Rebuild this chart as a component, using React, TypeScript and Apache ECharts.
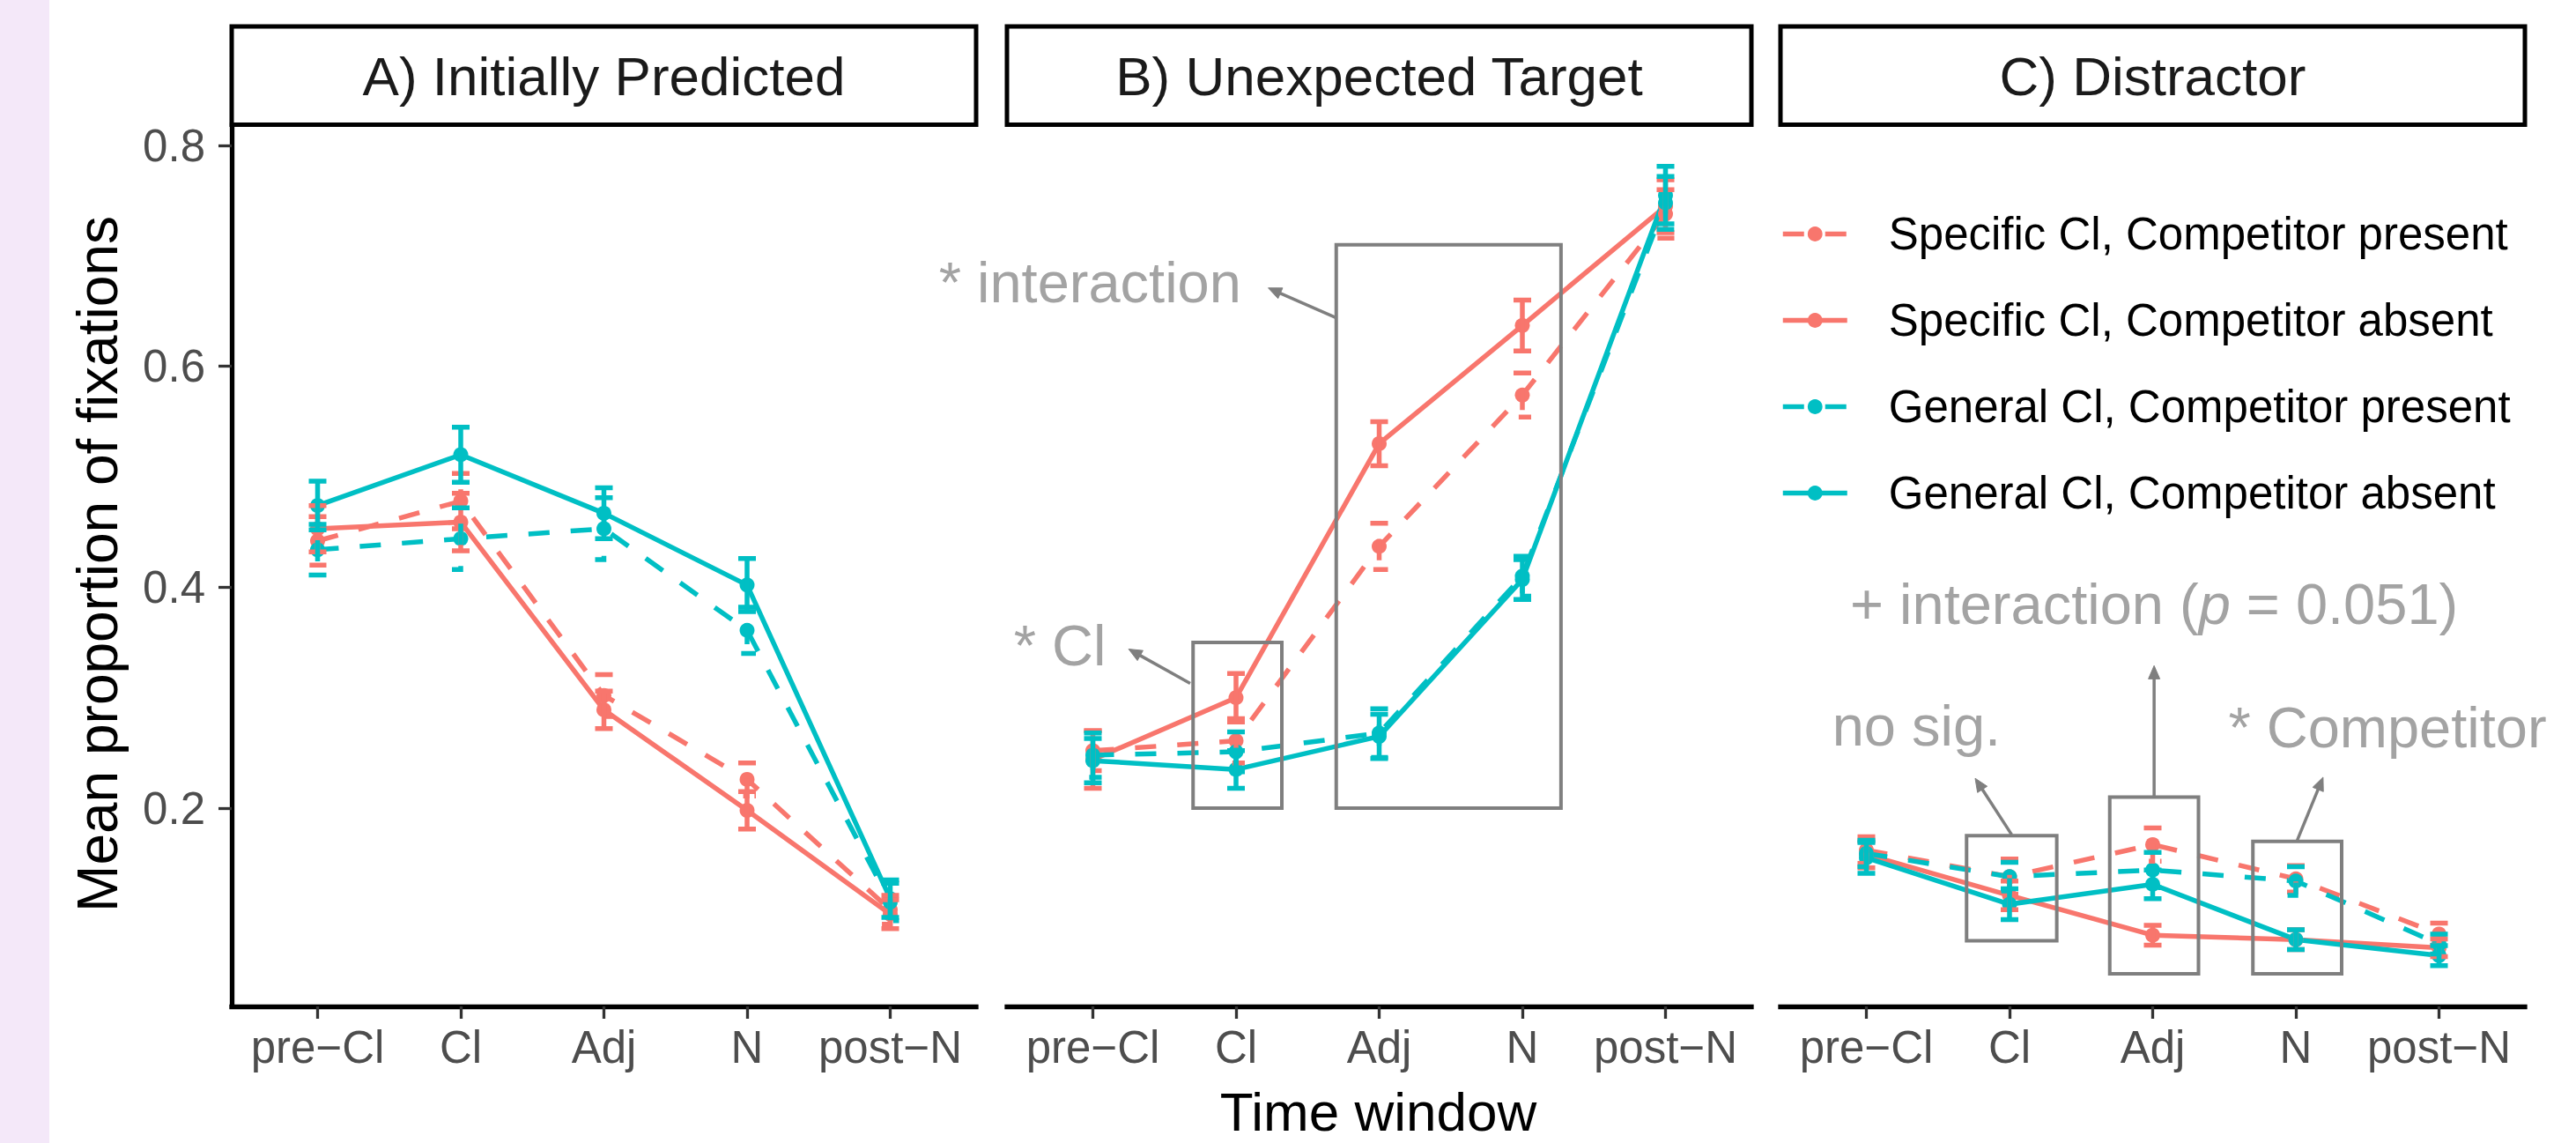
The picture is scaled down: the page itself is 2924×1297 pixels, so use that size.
import React, { useEffect, useRef } from 'react';
import * as echarts from 'echarts';

// ---------- data ----------
const categories = ['pre−Cl', 'Cl', 'Adj', 'N', 'post−N'];
const yTicks = [0.2, 0.4, 0.6, 0.8];
const seriesNames = [
  'Specific Cl, Competitor present',
  'Specific Cl, Competitor absent',
  'General Cl, Competitor present',
  'General Cl, Competitor absent',
];
const panelTitles = ['A) Initially Predicted', 'B) Unexpected Target', 'C) Distractor'];

// Panel A — Initially Predicted
const aSpecPresent = [0.442, 0.478, 0.302, 0.226, 0.108];
const aSpecPresentSE = [0.022, 0.025, 0.019, 0.015, 0.013];
const aSpecAbsent = [0.453, 0.459, 0.289, 0.198, 0.104];
const aSpecAbsentSE = [0.021, 0.026, 0.017, 0.017, 0.013];
const aGenPresent = [0.434, 0.444, 0.453, 0.361, 0.115];
const aGenPresentSE = [0.023, 0.028, 0.028, 0.021, 0.017];
const aGenAbsent = [0.474, 0.520, 0.467, 0.402, 0.118];
const aGenAbsentSE = [0.022, 0.025, 0.023, 0.024, 0.017];

// Panel B — Unexpected Target
const bSpecPresent = [0.252, 0.261, 0.437, 0.574, 0.738];
const bSpecPresentSE = [0.018, 0.02, 0.021, 0.02, 0.022];
const bSpecAbsent = [0.244, 0.300, 0.530, 0.637, 0.745];
const bSpecAbsentSE = [0.026, 0.022, 0.02, 0.023, 0.024];
const bGenPresent = [0.248, 0.251, 0.268, 0.410, 0.748];
const bGenPresentSE = [0.02, 0.018, 0.022, 0.018, 0.024];
const bGenAbsent = [0.243, 0.235, 0.265, 0.407, 0.755];
const bGenAbsentSE = [0.02, 0.017, 0.02, 0.018, 0.026];

// Panel C — Distractor
const cSpecPresent = [0.162, 0.138, 0.167, 0.136, 0.086];
const cSpecPresentSE = [0.012, 0.016, 0.015, 0.012, 0.01];
const cSpecAbsent = [0.158, 0.121, 0.085, 0.081, 0.0735];
const cSpecAbsentSE = [0.012, 0.013, 0.009, 0.009, 0.008];
const cGenPresent = [0.159, 0.138, 0.144, 0.134, 0.077];
const cGenPresentSE = [0.012, 0.013, 0.016, 0.013, 0.009];
const cGenAbsent = [0.155, 0.113, 0.131, 0.081, 0.0665];
const cGenAbsentSE = [0.014, 0.014, 0.013, 0.009, 0.009];

// Annotations (data units: category index, proportion)
const bBoxes = [[0.7, 1.32, 0.2, 0.35], [1.7, 3.27, 0.2, 0.71]];
const bArrows = [[0.68, 0.313, 0.25, 0.344], [1.7, 0.644, 1.225, 0.671]];
const bLabels: [number, number, string][] = [[-0.23, 0.347, '* Cl'], [-0.02, 0.676, '* interaction']];
const cBoxes = [[0.7, 1.33, 0.08, 0.175], [1.7, 2.32, 0.05, 0.21], [2.7, 3.32, 0.05, 0.17]];
const cArrows = [[1.015, 0.176, 0.76, 0.227], [2.01, 0.21, 2.01, 0.329], [3.01, 0.171, 3.19, 0.228]];
const cLabels: [number, number, string][] = [
  [0.35, 0.275, 'no sig.'],
  [2.01, 0.385, '+ interaction ({i|p} = 0.051)'],
  [3.64, 0.273, '* Competitor'],
];

// ---------- styling ----------
const FONT = '"Liberation Sans", Arial, Helvetica, sans-serif';
const RED = '#F8766D';
const TEAL = '#00BFC4';
const GREY_BOX = '#7f7f7f';
const GREY_TEXT = '#a3a3a3';
const colors = [RED, RED, TEAL, TEAL];
const dashed = [true, false, true, false];
const DASH = [24, 24];
const LW = 5.5;

const L = { lefts: [263, 1143, 2021], width: 845, top: 142, height: 1000 };
const Y_MIN = 0.0205;
const Y_MAX = 0.8184;

const panels = [
  { means: [aSpecPresent, aSpecAbsent, aGenPresent, aGenAbsent], ses: [aSpecPresentSE, aSpecAbsentSE, aGenPresentSE, aGenAbsentSE] },
  { means: [bSpecPresent, bSpecAbsent, bGenPresent, bGenAbsent], ses: [bSpecPresentSE, bSpecAbsentSE, bGenPresentSE, bGenAbsentSE] },
  { means: [cSpecPresent, cSpecAbsent, cGenPresent, cGenAbsent], ses: [cSpecPresentSE, cSpecAbsentSE, cGenPresentSE, cGenAbsentSE] },
];

function buildOption() {
  const grids: any[] = [];
  const xAxes: any[] = [];
  const yAxes: any[] = [];
  const series: any[] = [];
  const xIdx = [0, 1, 2, 3, 4];

  L.lefts.forEach((left, p) => {
    grids.push({ left, top: L.top, width: L.width, height: L.height });
    xAxes.push({
      type: 'value', gridIndex: p, min: -0.6, max: 4.6,
      axisLine: { show: true, onZero: false, lineStyle: { color: '#000', width: 5.3, cap: 'square' } },
      axisTick: { show: true, length: 14, customValues: xIdx, lineStyle: { color: '#333', width: 3.3 } },
      axisLabel: {
        show: true, customValues: xIdx, margin: 21,
        formatter: (v: number) => categories[Math.round(v)] ?? '',
        fontSize: 51, fontFamily: FONT, color: '#4d4d4d',
      },
      splitLine: { show: false },
    });
    yAxes.push({
      type: 'value', gridIndex: p, min: Y_MIN, max: Y_MAX,
      axisLine: { show: p === 0, onZero: false, lineStyle: { color: '#000', width: 5.3, cap: 'square' } },
      axisTick: { show: p === 0, length: 15, customValues: yTicks, lineStyle: { color: '#333', width: 3.3 } },
      axisLabel: {
        show: p === 0, customValues: yTicks, margin: 30,
        formatter: (v: number) => v.toFixed(1),
        fontSize: 51, fontFamily: FONT, color: '#4d4d4d',
      },
      splitLine: { show: false },
    });

    const pan = panels[p];
    pan.means.forEach((m, g) => {
      const color = colors[g];
      series.push({
        type: 'line', name: seriesNames[g], xAxisIndex: p, yAxisIndex: p,
        data: m.map((v, i) => [i, v]),
        symbol: 'circle', symbolSize: 17, showSymbol: true,
        lineStyle: { color, width: LW, type: dashed[g] ? DASH : 'solid' },
        itemStyle: { color },
        emphasis: { disabled: true }, silent: true, z: 2,
      });
      const se = pan.ses[g];
      series.push({
        type: 'custom', xAxisIndex: p, yAxisIndex: p, clip: false, silent: true, z: 3,
        data: m.map((v, i) => [i, v, se[i]]),
        encode: { x: 0, y: 1 },
        renderItem: (params: any, api: any) => {
          const x = api.value(0), v = api.value(1), s = api.value(2);
          const top = api.coord([x, v + s]);
          const bot = api.coord([x, v - s]);
          const hw = 10;
          return {
            type: 'polyline',
            shape: {
              points: [
                [top[0] - hw, top[1]], [top[0] + hw, top[1]], [top[0], top[1]],
                [bot[0], bot[1]], [bot[0] - hw, bot[1]], [bot[0] + hw, bot[1]],
              ],
            },
            style: { stroke: color, lineWidth: LW, fill: 'none', lineDash: dashed[g] ? DASH : null },
          };
        },
      });
    });
  });

  const addAnnotations = (p: number, boxes: number[][], arrows: number[][], labels: [number, number, string][]) => {
    series.push({
      type: 'custom', xAxisIndex: p, yAxisIndex: p, clip: false, silent: true, z: 4,
      data: boxes.map((b) => [b[0], b[2]]),
      encode: { x: 0, y: 1 },
      renderItem: (params: any, api: any) => {
        const b = boxes[params.dataIndex];
        const p1 = api.coord([b[0], b[3]]);
        const p2 = api.coord([b[1], b[2]]);
        return {
          type: 'rect',
          shape: { x: p1[0], y: p1[1], width: p2[0] - p1[0], height: p2[1] - p1[1] },
          style: { stroke: GREY_BOX, lineWidth: 4, fill: 'none' },
        };
      },
    });
    series.push({
      type: 'custom', xAxisIndex: p, yAxisIndex: p, clip: false, silent: true, z: 4,
      data: arrows.map((a) => [a[0], a[1]]),
      encode: { x: 0, y: 1 },
      renderItem: (params: any, api: any) => {
        const a = arrows[params.dataIndex];
        const p1 = api.coord([a[0], a[1]]);
        const p2 = api.coord([a[2], a[3]]);
        const dx = p2[0] - p1[0], dy = p2[1] - p1[1];
        const len = Math.hypot(dx, dy) || 1;
        const ux = dx / len, uy = dy / len;
        const HL = 15, HW = 6.5;
        const bx = p2[0] - ux * HL, by = p2[1] - uy * HL;
        return {
          type: 'group',
          children: [
            { type: 'line', shape: { x1: p1[0], y1: p1[1], x2: bx + ux * 3, y2: by + uy * 3 }, style: { stroke: GREY_BOX, lineWidth: 3.5 } },
            {
              type: 'polygon',
              shape: { points: [[p2[0], p2[1]], [bx - uy * HW, by + ux * HW], [bx + uy * HW, by - ux * HW]] },
              style: { fill: GREY_BOX, stroke: GREY_BOX, lineWidth: 1 },
            },
          ],
        };
      },
    });
    series.push({
      type: 'custom', xAxisIndex: p, yAxisIndex: p, clip: false, silent: true, z: 4,
      data: labels.map((t) => [t[0], t[1]]),
      encode: { x: 0, y: 1 },
      renderItem: (params: any, api: any) => {
        const t = labels[params.dataIndex];
        const pt = api.coord([t[0], t[1]]);
        return {
          type: 'text', x: pt[0], y: pt[1],
          style: {
            text: t[2], fontSize: 65, fontFamily: FONT, fill: GREY_TEXT,
            align: 'center', verticalAlign: 'middle',
            rich: { i: { fontStyle: 'italic', fontSize: 65, fontFamily: FONT, fill: GREY_TEXT } },
          },
        };
      },
    });
  };
  addAnnotations(1, bBoxes, bArrows, bLabels);
  addAnnotations(2, cBoxes, cArrows, cLabels);

  const graphic: any[] = [
    { type: 'rect', silent: true, shape: { x: 0, y: 0, width: 56, height: 1297 }, style: { fill: '#f4e8f9' } },
  ];
  L.lefts.forEach((left, p) => {
    graphic.push({
      type: 'rect', silent: true,
      shape: { x: left, y: 30, width: L.width, height: 111.5 },
      style: { fill: '#ffffff', stroke: '#000', lineWidth: 5 },
    });
    graphic.push({
      type: 'text', silent: true, x: left + L.width / 2, y: 86,
      style: {
        text: panelTitles[p], fontSize: 62, fontFamily: FONT, fill: '#1a1a1a',
        align: 'center', verticalAlign: 'middle', textAlign: 'center', textVerticalAlign: 'middle',
      },
    });
  });
  graphic.push({
    type: 'text', silent: true, x: 111, y: 640, rotation: Math.PI / 2,
    style: {
      text: 'Mean proportion of fixations', fontSize: 64, fontFamily: FONT, fill: '#000',
      align: 'center', verticalAlign: 'middle', textAlign: 'center', textVerticalAlign: 'middle',
    },
  });
  graphic.push({
    type: 'text', silent: true, x: (L.lefts[0] + L.lefts[2] + L.width) / 2, y: 1261,
    style: {
      text: 'Time window', fontSize: 62, fontFamily: FONT, fill: '#000',
      align: 'center', verticalAlign: 'middle', textAlign: 'center', textVerticalAlign: 'middle',
    },
  });

  return {
    animation: false,
    backgroundColor: '#ffffff',
    textStyle: { fontFamily: FONT },
    grid: grids,
    xAxis: xAxes,
    yAxis: yAxes,
    legend: {
      data: seriesNames,
      orient: 'vertical',
      left: 2016,
      top: 235,
      itemWidth: 73,
      itemHeight: 21,
      itemGap: 47,
      selectedMode: false,
      lineStyle: { width: LW },
      textStyle: { fontSize: 51, fontFamily: FONT, color: '#000', lineHeight: 51, padding: [0, 0, 0, 42] },
    },
    series,
    graphic,
  };
}

export default function App() {
  const ref = useRef<HTMLDivElement>(null);
  useEffect(() => {
    if (!ref.current) return;
    const chart = echarts.init(ref.current, undefined, { renderer: 'svg' });
    chart.setOption(buildOption() as any);
    return () => chart.dispose();
  }, []);
  return (
    <div
      ref={ref}
      style={{ position: 'fixed', left: 0, top: 0, width: 2924, height: 1297, background: '#fff' }}
    />
  );
}
